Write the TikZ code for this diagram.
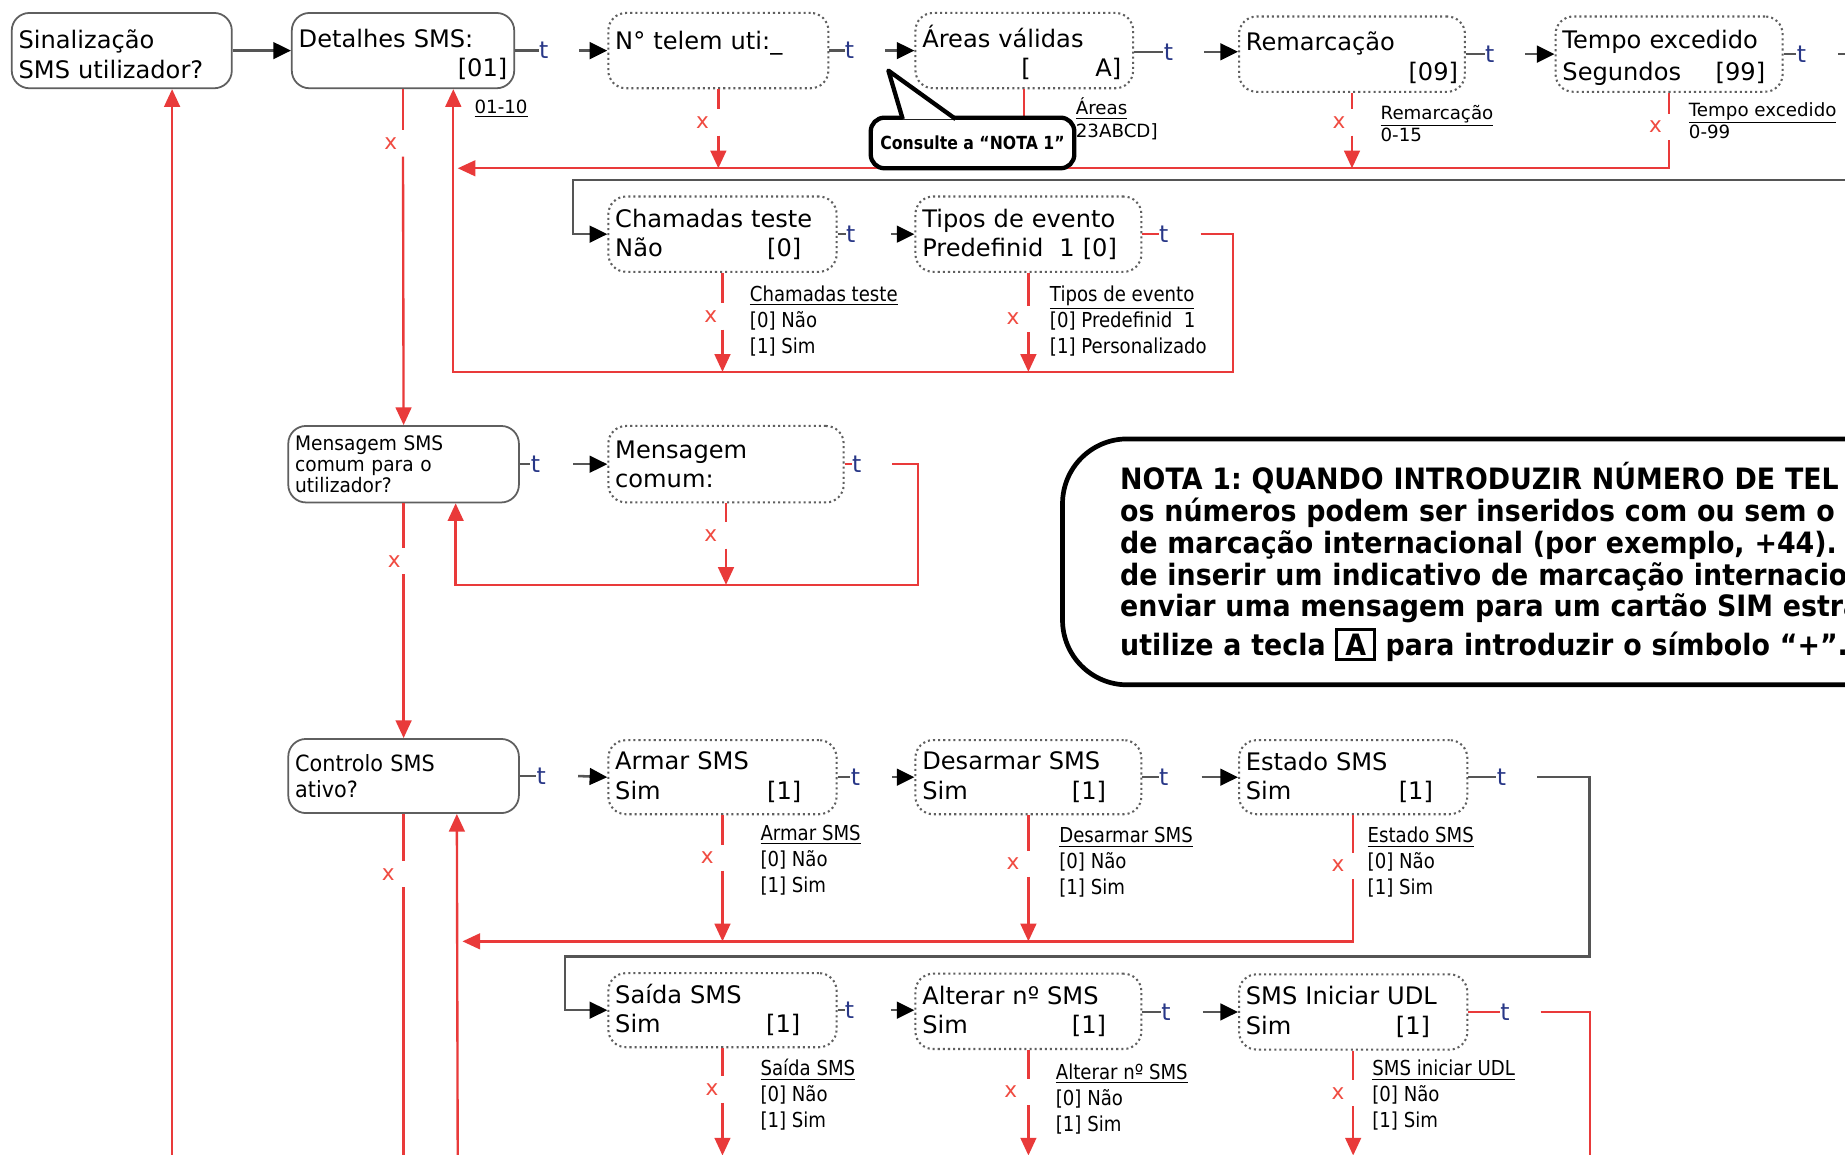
\documentclass[tikz,border=0pt]{standalone}
\usepackage{fontspec}
\setmainfont{DejaVu Sans}
\newfontfamily\condfont[FakeStretch=0.88]{DejaVu Sans}
\newfontfamily\narfont[FakeStretch=0.93]{DejaVu Sans}
\newfontfamily\notefont[FakeStretch=0.913]{DejaVu Sans}
\newfontfamily\callfont[FakeStretch=0.87]{DejaVu Sans}
\usetikzlibrary{arrows.meta,calc}
\definecolor{lred}{RGB}{233,58,58}
\definecolor{lgray}{RGB}{85,85,85}
\definecolor{bgray}{RGB}{95,95,95}
\definecolor{dgray}{RGB}{95,95,95}
\definecolor{tblue}{RGB}{40,55,135}
\definecolor{xred}{RGB}{240,75,65}
\newcommand\fillr{\hspace*{0pt plus 1filll}}
\newcommand\bxfont{\fontsize{12.3}{15}\selectfont}
\setlength\fboxrule{1.3pt}
\setlength\fboxsep{1.5pt}
\frenchspacing
\begin{document}
\frenchspacing
\begin{tikzpicture}[x=0.6pt,y=-0.6pt,
  box/.style={rounded corners=9pt, align=left, inner xsep=3.5pt, inner ysep=0pt, minimum height=38.4pt, fill=white, font=\bxfont},
  sbox/.style={box, draw=bgray, line width=0.9pt},
  dbox/.style={box, draw=dgray, line width=1.05pt, dash pattern=on 1.05pt off 1.55pt},
  lowtext/.style={execute at begin node={\rule{0pt}{13.4pt}}},
  tl/.style={text=tblue, font=\fontsize{12}{14}\selectfont, inner sep=0pt},
  xm/.style={text=xred, font=\fontsize{11}{13}\selectfont, inner sep=0pt, minimum height=13pt},
  lbla/.style={align=left, inner sep=0pt, anchor=north west, font=\fontsize{9.3}{11.4}\selectfont},
  lblb/.style={align=left, inner sep=0pt, anchor=north west, font=\condfont\fontsize{10.5}{13.2}\selectfont},
  gline/.style={draw=lgray, line width=1.3pt},
  garrow/.style={gline, -{Triangle[length=9pt,width=8.5pt,color=black]}},
  rline/.style={draw=lred, line width=1.2pt},
  rarrow/.style={rline, -{Triangle[length=9pt,width=8pt]}},
]
\useasboundingbox (0,0) rectangle (1568,981);
\fill[white] (0,0) rectangle (1568,981);
\clip (0,0) rectangle (1568,981);

% ---------- boxes ----------
\node[sbox, lowtext, text width=105.2pt] (A) at (103.5,43) {Sinalização\\SMS utilizador?};
\node[sbox, lowtext, text width=106.4pt] (B) at (342.5,43) {Detalhes SMS:\\\fillr[01]};
\node[dbox, lowtext, text width=105.2pt] (C) at (610.5,43) {N° telem uti:\_\\\mbox{}};
\node[dbox, lowtext, text width=104pt] (D) at (870.5,43) {Áreas válidas\\\hspace*{50.5pt}[\fillr A]\kern2.5pt};
\node[dbox, lowtext, text width=108.2pt] (E) at (1149,46) {Remarcação\\\fillr[09]};
\node[dbox, lowtext, text width=108.8pt] (F) at (1418.5,46) {Tempo excedido\\[1.5pt]Segundos\fillr[99]\kern5.4pt};

\node[dbox, text width=109.4pt] (G) at (614,199) {Chamadas teste\\Não\fillr[0]\kern14.5pt};
\node[dbox, text width=108.2pt] (H) at (874,199) {Tipos de evento\\Predefinid\ \ 1 [0]};

\node[sbox, text width=110.6pt, minimum height=39pt, font=\narfont\fontsize{10.2}{10.8}\selectfont] (I) at (343,394.5) {Mensagem SMS\\comum para o\\utilizador?};
\node[dbox, text width=113pt, minimum height=39pt] (J) at (617,394.5) {Mensagem\\comum:};

\node[sbox, text width=110.6pt, minimum height=37.8pt, font=\narfont\fontsize{11.4}{13.2}\selectfont] (K) at (343,659.5) {Controlo SMS\\ativo?};
\node[dbox, text width=109.4pt, minimum height=37.8pt] (L) at (614,660.5) {Armar SMS\\Sim\fillr[1]\kern14.5pt};
\node[dbox, text width=108.2pt, minimum height=37.8pt] (M) at (874,660.5) {Desarmar SMS\\Sim\fillr[1]\kern14.5pt};
\node[dbox, text width=109.4pt, minimum height=37.8pt] (N) at (1150,660.5) {Estado SMS\\Sim\fillr[1]\kern14pt};

\node[dbox, text width=109.4pt, minimum height=37.8pt] (O) at (614,858.5) {Saída SMS\\Sim\fillr[1]\kern15pt};
\node[dbox, text width=108.2pt, minimum height=38.4pt] (P) at (874,859.5) {Alterar nº SMS\\Sim\fillr[1]\kern14.5pt};
\node[dbox, text width=109.4pt, minimum height=38.4pt] (Q) at (1150,860) {SMS Iniciar UDL\\Sim\fillr[1]\kern15.5pt};

% ---------- t labels ----------
\node[tl] (tB) at (462,43) {t};
\node[tl] (tC) at (722,43) {t};
\node[tl] (tD) at (993,44) {t};
\node[tl] (tE) at (1266,46) {t};
\node[tl] (tF) at (1531,46) {t};
\node[tl] (tG) at (723,199) {t};
\node[tl] (tH) at (989,199) {t};
\node[tl] (tI) at (455,394.5) {t};
\node[tl] (tJ) at (728,394.5) {t};
\node[tl] (tK) at (460,659.5) {t};
\node[tl] (tL) at (727,660.5) {t};
\node[tl] (tM) at (989,660.5) {t};
\node[tl] (tN) at (1276,660.5) {t};
\node[tl] (tO) at (722,858.5) {t};
\node[tl] (tP) at (991,860) {t};
\node[tl] (tQ) at (1279,860) {t};

% ---------- x marks ----------
\node[xm] (xB) at (332,122) {x};
\node[xm] (xC) at (597,104) {x};
\node[xm] (xE) at (1138,104) {x};
\node[xm] (xF) at (1407,108) {x};
\node[xm] (xG) at (604,269) {x};
\node[xm] (xH) at (861,271) {x};
\node[xm] (xJ) at (604,455) {x};
\node[xm] (xI) at (335,477) {x};
\node[xm] (xK) at (330,743) {x};
\node[xm] (xL) at (601,729) {x};
\node[xm] (xM) at (861,734) {x};
\node[xm] (xN) at (1137,736) {x};
\node[xm] (xO) at (605,926) {x};
\node[xm] (xP) at (859,928) {x};
\node[xm] (xQ) at (1137,929) {x};

% ---------- option labels ----------
\node[lbla] (l01) at (403,83) {\strut\underline{01-10}};
\node[lbla] (lAr) at (914,83) {\strut\underline{Áreas}\\23ABCD]};
\node[lbla] (lRe) at (1173,88) {\strut\underline{Remarcação}\\0-15};
\node[lbla] (lTe) at (1435,85) {\strut\underline{Tempo excedido}\\0-99};
\node[lblb] (lCh) at (637,240.6) {\strut\underline{Chamadas teste}\\{}[0] Não\\{}[1] Sim};
\node[lblb] (lTi) at (892,240.6) {\strut\underline{Tipos de evento}\\{}[0] Predefinid\ \ 1\\{}[1] Personalizado};
\node[lblb] (lAm) at (646,698.6) {\strut\underline{Armar SMS}\\{}[0] Não\\{}[1] Sim};
\node[lblb] (lDe) at (900,700.6) {\strut\underline{Desarmar SMS}\\{}[0] Não\\{}[1] Sim};
\node[lblb] (lEs) at (1162,700.6) {\strut\underline{Estado SMS}\\{}[0] Não\\{}[1] Sim};
\node[lblb] (lSa) at (646,898.6) {\strut\underline{Saída SMS}\\{}[0] Não\\{}[1] Sim};
\node[lblb] (lAl) at (897,901.6) {\strut\underline{Alterar nº SMS}\\{}[0] Não\\{}[1] Sim};
\node[lblb] (lUd) at (1166,898.6) {\strut\underline{SMS iniciar UDL}\\{}[0] Não\\{}[1] Sim};

% ---------- helper coordinates ----------
\coordinate (bUp) at ($(B.south west)+(138,0)$);
\coordinate (r1L) at (389,143);
\coordinate (r2R) at (1048,316);
\coordinate (iUp) at ($(I.south west)+(143,0)$);
\coordinate (r3R) at (780,497);
\coordinate (kUp) at ($(K.south west)+(144,0)$);
\coordinate (kUpB) at (389,986);
\coordinate (r4L) at (393,800);
\coordinate (bot) at (0,982);
\coordinate (botx) at (0,986);
\coordinate (aUp) at ($(A.south west)+(137,0)$);
\coordinate (fOut) at (1580,46);
\coordinate (fIn) at (1580,153);
\coordinate (gL) at (487,153);
\coordinate (nR) at (1351,813);
\coordinate (nL) at (480,813);
\coordinate (qR) at (1351,860);

% ---------- forward (gray) connectors ----------
\draw[garrow] (A.east) -- (B.west);
\draw[gline] (B.east) -- (tB.west);
\draw[garrow] ($(tB.east)+(26,0)$) -- (C.west);
\draw[gline] (C.east) -- (tC.west);
\draw[garrow] ($(tC.east)+(26,0)$) -- (D.west);
\draw[gline] (D.east |- tD.west) -- (tD.west);
\draw[garrow] ($(tD.east)+(26,0)$) -- (E.west |- tD.east);
\draw[gline] (E.east) -- (tE.west);
\draw[garrow] ($(tE.east)+(26,0)$) -- (F.west);
\draw[gline] (F.east) -- (tF.west);
\draw[gline] ($(tF.east)+(27,0)$) -- (fOut);
\draw[garrow] (fIn) -- (gL) |- (G.west);
\draw[gline] (G.east) -- (tG.west);
\draw[garrow] ($(tG.east)+(30,0)$) -- (H.west);

\draw[gline] (I.east) -- (tI.west);
\draw[garrow] ($(tI.east)+(28,0)$) -- (J.west);

\draw[gline] (K.east) -- (tK.west);
\draw[garrow] ($(tK.east)+(27,0)$) -- (L.west);
\draw[gline] (L.east) -- (tL.west);
\draw[garrow] ($(tL.east)+(27,0)$) -- (M.west);
\draw[gline] (M.east) -- (tM.west);
\draw[garrow] ($(tM.east)+(28,0)$) -- (N.west);
\draw[gline] (N.east) -- (tN.west);
\draw[garrow] ($(tN.east)+(26,0)$) -| (nR) -- (nL) |- (O.west);

\draw[gline] (O.east) -- (tO.west);
\draw[garrow] ($(tO.east)+(31,0)$) -- (P.west |- tO.east);
\draw[gline] (P.east |- tP.west) -- (tP.west);
\draw[garrow] ($(tP.east)+(27,0)$) -- (Q.west);

% ---------- red (x / return) connectors ----------
\draw[rarrow] (aUp |- botx) -- (aUp);

\draw[rline] (B.south) -- (xB.north -| B.south);
\draw[rarrow] (xB.south -| B.south) -- (I.north);

\draw[rline] (C.south) -- (xC.north -| C.south);
\draw[rarrow] (xC.south -| C.south) -- (C.south |- r1L);
\draw[rarrow] (D.south) -- (D.south |- r1L);
\draw[rline] (E.south) -- (xE.north -| E.south);
\draw[rarrow] (xE.south -| E.south) -- (E.south |- r1L);
\draw[rline] (F.south) -- (xF.north -| F.south);
\draw[rarrow] (xF.south -| F.south) |- (r1L);

\draw[rline] (G.south) -- (xG.north -| G.south);
\draw[rarrow] (xG.south -| G.south) -- (G.south |- r2R);
\draw[rline] (H.south) -- (xH.north -| H.south);
\draw[rarrow] (xH.south -| H.south) -- (H.south |- r2R);
\draw[rline] (H.east) -- (tH.west);
\draw[rarrow] ($(tH.east)+(27,0)$) -| (r2R) -| (bUp);

\draw[rline] (J.south) -- (xJ.north -| J.south);
\draw[rarrow] (xJ.south -| J.south) -- (J.south |- r3R);
\draw[rline] (J.east) -- (tJ.west);
\draw[rarrow] ($(tJ.east)+(26,0)$) -| (r3R) -| (iUp);

\draw[rline] (I.south) -- (xI.north -| I.south);
\draw[rarrow] (xI.south -| I.south) -- (K.north);

\draw[rline] (K.south) -- (xK.north -| K.south);
\draw[rline] (xK.south -| K.south) -- (K.south |- botx);
\draw[rarrow] (kUpB) -- (kUp);

\draw[rline] (L.south) -- (xL.north -| L.south);
\draw[rarrow] (xL.south -| L.south) -- (L.south |- r4L);
\draw[rline] (M.south) -- (xM.north -| M.south);
\draw[rarrow] (xM.south -| M.south) -- (M.south |- r4L);
\draw[rline] (N.south) -- (xN.north -| N.south);
\draw[rarrow] (xN.south -| N.south) |- (r4L);

\draw[rline] (O.south) -- (xO.north -| O.south);
\draw[rarrow] (xO.south -| O.south) -- (O.south |- bot);
\draw[rline] (P.south) -- (xP.north -| P.south);
\draw[rarrow] (xP.south -| P.south) -- (P.south |- bot);
\draw[rline] (Q.south) -- (xQ.north -| Q.south);
\draw[rarrow] (xQ.south -| Q.south) -- (Q.south |- bot);
\draw[rline] (Q.east) -- (tQ.west);
\draw[rline] ($(tQ.east)+(26,0)$) -- (qR) -- (qR |- botx);

% ---------- callout ----------
\node[draw=black, fill=white, line width=2.2pt, rounded corners=7pt, minimum width=103.8pt, minimum height=25.8pt, inner sep=0pt, font=\callfont\bfseries\fontsize{9.2}{11}\selectfont] (call) at (826.5,121.5) {Consulte a “NOTA 1”};
\filldraw[fill=white, draw=black, line width=2.2pt, line join=round] ($(call.north west)+(29,3)$) -- (755,60) -- ($(call.north west)+(74,3)$);

% ---------- note ----------
\node[draw=black, line width=2.4pt, rounded corners=33pt, fill=white, anchor=north west, minimum height=125.4pt, text width=440pt, inner xsep=29.4pt, inner ysep=0pt, align=left, font=\notefont\bfseries\fontsize{15}{16.2}\selectfont] (nota) at (901,371) {NOTA 1: QUANDO INTRODUZIR NÚMERO DE TEL\\os números podem ser inseridos com ou sem o in\\de marcação internacional (por exemplo, +44). S\\de inserir um indicativo de marcação internacion\\enviar uma mensagem para um cartão SIM estra\\[1.5pt]utilize a tecla \fbox{\makebox[15pt]{A}} para introduzir o símbolo “+”.};
\end{tikzpicture}
\end{document}
